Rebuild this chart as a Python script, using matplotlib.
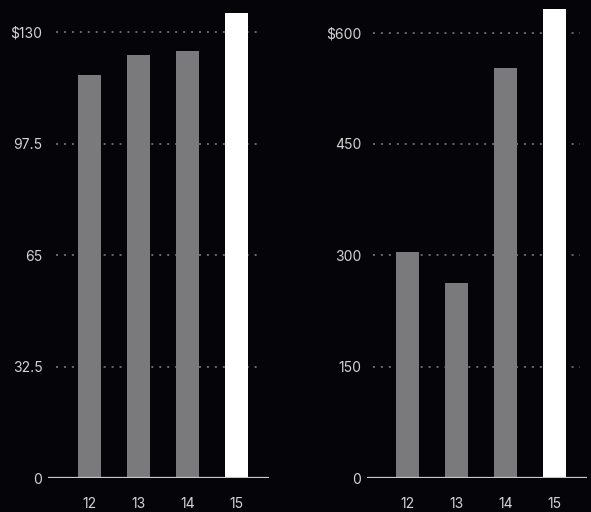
import matplotlib
matplotlib.use("Agg")
import matplotlib.pyplot as plt

# Data
years = ["12", "13", "14", "15"]
left_values = [117.5, 123.3, 124.7, 135.8]
left_ticks = [0, 32.5, 65, 97.5, 130]
left_labels = ["0", "32.5", "65", "97.5", "$130"]

right_values = [303.8, 262.9, 552.8, 632.3]
right_ticks = [0, 150, 300, 450, 600]
right_labels = ["0", "150", "300", "450", "$600"]

BG = "#050408"
GRAY = "#7a7a7c"
WHITE = "#ffffff"
TEXT = "#d4d4d4"
GRID = "#707070"

W, H = 591, 512
fig = plt.figure(figsize=(W / 100, H / 100), dpi=100, facecolor=BG)
plt.rcParams["font.family"] = ["Inter", "DejaVu Sans"]


def panel(x0, x1, first_center, values, ticks, labels, grid_x0, grid_x1):
    base_px, top_tick_px, top_px = 478, 32.5, 5
    ax = fig.add_axes([x0 / W, (H - base_px) / H, (x1 - x0) / W,
                       (base_px - top_px) / H])
    ax.set_facecolor(BG)
    spacing = 49.0
    last_center = first_center + 3 * spacing
    xs = list(range(len(values)))
    ax.set_xlim(-(first_center - x0) / spacing, 3 + (x1 - last_center) / spacing)
    ymax = ticks[-1] * (base_px - top_px) / (base_px - top_tick_px)
    ax.set_ylim(0, ymax)

    gx0 = (grid_x0 - first_center) / spacing
    gx1 = 3 + (grid_x1 - last_center) / spacing
    for t in ticks[1:]:
        ax.plot([gx0, gx1], [t, t], color=GRID, lw=1.3,
                linestyle=(0, (1.1, 3.3)), zorder=1, solid_capstyle="butt")

    colors = [GRAY, GRAY, GRAY, WHITE]
    ax.bar(xs, values, width=23 / spacing, color=colors, zorder=2)
    ax.axhline(0, color="#c8c8c8", lw=1.6, zorder=3)

    for s in ax.spines.values():
        s.set_visible(False)
    ax.set_xticks(xs)
    ax.set_xticklabels(years)
    ax.set_yticks(ticks)
    ax.set_yticklabels(labels)
    ax.tick_params(axis="both", length=0, colors=TEXT, labelsize=10)
    ax.tick_params(axis="x", pad=14)
    ax.tick_params(axis="y", pad=4)
    return ax


panel(48, 269, 89.5, left_values, left_ticks, left_labels, 56, 262)
panel(367, 587, 407.5, right_values, right_ticks, right_labels, 373, 580)

fig.savefig("out.png", dpi=100, facecolor=BG)
